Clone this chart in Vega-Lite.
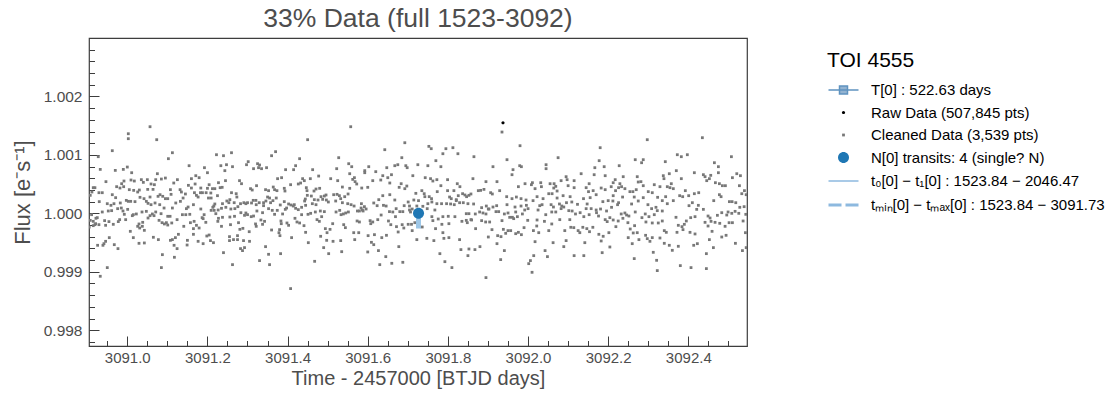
{
"$schema":"https://vega.github.io/schema/vega-lite/v6.json",
"width":658,"height":308,
"autosize":{"type":"none"},
"padding":{"left":89,"top":38,"right":370,"bottom":55},
"background":"white",
"title":{"text":"33% Data (full 1523-3092)","fontSize":26.5,"fontWeight":"normal","color":"#4d4d4d","offset":6,"anchor":"middle","frame":"group","font":"Liberation Sans"},
"config":{
"font":"Liberation Sans",
"view":{"stroke":"#3d3d3d","strokeWidth":1.2},
"axis":{"domain":false,"grid":false,"tickColor":"#3d3d3d","tickWidth":1,"labelColor":"#4d4d4d","labelFontSize":15,"titleColor":"#4d4d4d","titleFontWeight":"normal","titleFontSize":20,"labelOverlap":false,"labelFlush":false},
"legend":{"orient":"right","offset":68,"padding":12,"titleFontSize":21,"titleFontWeight":"normal","titleColor":"#000000","labelFontSize":15,"labelColor":"#000000","symbolSize":400,"rowPadding":4.5,"labelOffset":16,"titlePadding":8,"symbolOffset":5,"labelLimit":400}
},
"resolve":{"axis":{"x":"independent","y":"independent"}},
"layer":[
{
"data":{"values":[
{"t":3091.0026,"f":1.001362,"s":"c"},{"t":3091.0026,"f":1.001277,"s":"c"},{"t":3091.0568,"f":1.001482,"s":"c"},{"t":3091.0735,"f":1.00126,"s":"c"},{"t":3090.9626,"f":1.001072,"s":"c"},{"t":3090.9276,"f":1.000969,"s":"c"},{"t":3091.1126,"f":1.001037,"s":"c"},{"t":3091.1026,"f":1.000935,"s":"c"},{"t":3091.1543,"f":1.000815,"s":"c"},{"t":3090.9326,"f":1.000752,"s":"c"},{"t":3090.9701,"f":1.000735,"s":"c"},{"t":3090.9901,"f":1.000752,"s":"c"},{"t":3091.0001,"f":1.000792,"s":"c"},{"t":3091.011,"f":1.000695,"s":"c"},{"t":3091.0751,"f":1.000678,"s":"c"},{"t":3091.171,"f":1.000644,"s":"c"},{"t":3091.1601,"f":1.000593,"s":"c"},{"t":3091.1793,"f":1.00061,"s":"c"},{"t":3090.9468,"f":1.000542,"s":"c"},{"t":3090.9918,"f":1.000553,"s":"c"},{"t":3091.0093,"f":1.00057,"s":"c"},{"t":3091.0176,"f":1.000553,"s":"c"},{"t":3091.0351,"f":1.000576,"s":"c"},{"t":3091.0501,"f":1.000576,"s":"c"},{"t":3091.0401,"f":1.00053,"s":"c"},{"t":3091.071,"f":1.000576,"s":"c"},{"t":3091.0851,"f":1.000587,"s":"c"},{"t":3091.0951,"f":1.000604,"s":"c"},{"t":3091.1251,"f":1.000576,"s":"c"},{"t":3091.116,"f":1.000519,"s":"c"},{"t":3091.0593,"f":1.000502,"s":"c"},{"t":3091.0676,"f":1.00049,"s":"c"},{"t":3090.986,"f":1.000507,"s":"c"},{"t":3090.9735,"f":1.000456,"s":"c"},{"t":3090.9818,"f":1.000433,"s":"c"},{"t":3090.991,"f":1.000456,"s":"c"},{"t":3090.9151,"f":1.000439,"s":"c"},{"t":3090.9193,"f":1.000439,"s":"c"},{"t":3090.9118,"f":1.000365,"s":"c"},{"t":3090.9293,"f":1.000353,"s":"c"},{"t":3090.9376,"f":1.000353,"s":"c"},{"t":3090.9076,"f":1.000308,"s":"c"},{"t":3090.9626,"f":1.000319,"s":"c"},{"t":3090.971,"f":1.000268,"s":"c"},{"t":3091.0051,"f":1.000405,"s":"c"},{"t":3091.016,"f":1.000393,"s":"c"},{"t":3091.026,"f":1.000365,"s":"c"},{"t":3091.0301,"f":1.000399,"s":"c"},{"t":3091.051,"f":1.00041,"s":"c"},{"t":3091.0643,"f":1.00041,"s":"c"},{"t":3091.1076,"f":1.000405,"s":"c"},{"t":3091.1318,"f":1.000405,"s":"c"},{"t":3091.1351,"f":1.000365,"s":"c"},{"t":3091.1451,"f":1.000331,"s":"c"},{"t":3091.1676,"f":1.000353,"s":"c"},{"t":3091.1726,"f":1.000308,"s":"c"},{"t":3091.1768,"f":1.000279,"s":"c"},{"t":3091.1601,"f":1.000433,"s":"c"},{"t":3091.1693,"f":1.000502,"s":"c"},{"t":3091.1526,"f":1.000479,"s":"c"},{"t":3091.0818,"f":1.000319,"s":"c"},{"t":3091.0768,"f":1.000291,"s":"c"},{"t":3091.0885,"f":1.000291,"s":"c"},{"t":3091.0951,"f":1.000251,"s":"c"},{"t":3091.101,"f":1.000251,"s":"c"},{"t":3091.1093,"f":1.000325,"s":"c"},{"t":3091.1393,"f":1.000262,"s":"c"},{"t":3091.1326,"f":1.000205,"s":"c"},{"t":3091.121,"f":1.000177,"s":"c"},{"t":3091.1651,"f":1.000148,"s":"c"},{"t":3090.9301,"f":1.0002,"s":"c"},{"t":3090.9501,"f":1.000165,"s":"c"},{"t":3090.9593,"f":1.000137,"s":"c"},{"t":3090.9668,"f":1.000165,"s":"c"},{"t":3090.9826,"f":1.000177,"s":"c"},{"t":3090.9976,"f":1.000222,"s":"c"},{"t":3091.0026,"f":1.000205,"s":"c"},{"t":3091.0085,"f":1.000205,"s":"c"},{"t":3091.0193,"f":1.0002,"s":"c"},{"t":3091.0318,"f":1.000274,"s":"c"},{"t":3091.0418,"f":1.000251,"s":"c"},{"t":3091.0476,"f":1.000205,"s":"c"},{"t":3091.0518,"f":1.000171,"s":"c"},{"t":3091.0568,"f":1.000279,"s":"c"},{"t":3091.0593,"f":1.000148,"s":"c"},{"t":3091.0693,"f":1.000177,"s":"c"},{"t":3091.081,"f":1.000148,"s":"c"},{"t":3091.0918,"f":1.000091,"s":"c"},{"t":3091.1126,"f":1.000091,"s":"c"},{"t":3091.1476,"f":1.00008,"s":"c"},{"t":3091.1518,"f":1.000108,"s":"c"},{"t":3091.156,"f":0.999983,"s":"c"},{"t":3091.146,"f":0.999977,"s":"c"},{"t":3091.1376,"f":0.999977,"s":"c"},{"t":3090.9376,"f":1.000023,"s":"c"},{"t":3090.9526,"f":1.00004,"s":"c"},{"t":3090.961,"f":1.000046,"s":"c"},{"t":3090.976,"f":1.00008,"s":"c"},{"t":3090.9851,"f":1.000091,"s":"c"},{"t":3090.9893,"f":1.00004,"s":"c"},{"t":3090.9926,"f":0.999983,"s":"c"},{"t":3091.001,"f":1.000068,"s":"c"},{"t":3091.0151,"f":0.999977,"s":"c"},{"t":3091.0226,"f":0.999989,"s":"c"},{"t":3091.0368,"f":1.000023,"s":"c"},{"t":3091.0476,"f":1.000034,"s":"c"},{"t":3091.0568,"f":0.99996,"s":"c"},{"t":3091.0626,"f":0.999989,"s":"c"},{"t":3091.071,"f":1.000023,"s":"c"},{"t":3091.0843,"f":0.999994,"s":"c"},{"t":3091.101,"f":0.999949,"s":"c"},{"t":3091.1068,"f":0.999949,"s":"c"},{"t":3091.1243,"f":0.999892,"s":"c"},{"t":3091.111,"f":0.999835,"s":"c"},{"t":3091.0976,"f":0.99984,"s":"c"},{"t":3091.0926,"f":0.999818,"s":"c"},{"t":3091.101,"f":0.9998,"s":"c"},{"t":3091.0868,"f":0.99984,"s":"c"},{"t":3091.0793,"f":0.99988,"s":"c"},{"t":3091.0668,"f":0.99996,"s":"c"},{"t":3091.0518,"f":0.99992,"s":"c"},{"t":3091.0385,"f":0.999846,"s":"c"},{"t":3091.0293,"f":0.999818,"s":"c"},{"t":3091.031,"f":0.999749,"s":"c"},{"t":3091.0426,"f":0.999709,"s":"c"},{"t":3091.026,"f":0.999778,"s":"c"},{"t":3091.0376,"f":0.999778,"s":"c"},{"t":3091.0126,"f":0.99996,"s":"c"},{"t":3090.996,"f":0.999892,"s":"c"},{"t":3090.9776,"f":0.999858,"s":"c"},{"t":3090.981,"f":0.999892,"s":"c"},{"t":3090.9651,"f":0.999812,"s":"c"},{"t":3090.9543,"f":0.999858,"s":"c"},{"t":3090.9435,"f":0.999875,"s":"c"},{"t":3090.946,"f":0.999795,"s":"c"},{"t":3090.9293,"f":0.999806,"s":"c"},{"t":3090.9193,"f":0.999806,"s":"c"},{"t":3090.9151,"f":0.999863,"s":"c"},{"t":3090.9076,"f":0.99988,"s":"c"},{"t":3090.9218,"f":0.999915,"s":"c"},{"t":3090.9251,"f":0.999926,"s":"c"},{"t":3090.911,"f":0.999977,"s":"c"},{"t":3090.9151,"f":0.999789,"s":"c"},{"t":3090.921,"f":0.999823,"s":"c"},{"t":3090.905,"f":0.999766,"s":"c"},{"t":3091.141,"f":0.999778,"s":"c"},{"t":3091.1576,"f":0.99984,"s":"c"},{"t":3091.1668,"f":0.999863,"s":"c"},{"t":3091.1726,"f":0.999795,"s":"c"},{"t":3091.1651,"f":0.999738,"s":"c"},{"t":3091.1651,"f":0.999641,"s":"c"},{"t":3091.1501,"f":0.999538,"s":"c"},{"t":3091.1493,"f":0.999458,"s":"c"},{"t":3091.1276,"f":0.999641,"s":"c"},{"t":3091.1201,"f":0.999584,"s":"c"},{"t":3091.1168,"f":0.999453,"s":"c"},{"t":3091.1126,"f":0.99955,"s":"c"},{"t":3091.1243,"f":0.999396,"s":"c"},{"t":3091.1176,"f":0.999248,"s":"c"},{"t":3091.0776,"f":0.99955,"s":"c"},{"t":3091.0651,"f":0.99959,"s":"c"},{"t":3091.0426,"f":0.999493,"s":"c"},{"t":3091.0293,"f":0.999487,"s":"c"},{"t":3091.0151,"f":0.999584,"s":"c"},{"t":3091.0076,"f":0.999692,"s":"c"},{"t":3091.0876,"f":0.999293,"s":"c"},{"t":3091.0851,"f":0.999071,"s":"c"},{"t":3090.9768,"f":0.999396,"s":"c"},{"t":3090.9676,"f":0.999464,"s":"c"},{"t":3090.9551,"f":0.999584,"s":"c"},{"t":3090.946,"f":0.999521,"s":"c"},{"t":3090.9393,"f":0.999453,"s":"c"},{"t":3090.926,"f":0.999453,"s":"c"},{"t":3090.9418,"f":0.999481,"s":"c"},{"t":3090.9501,"f":0.999071,"s":"c"},{"t":3090.9326,"f":0.998923,"s":"c"},{"t":3091.1768,"f":0.999521,"s":"c"},{"t":3091.1076,"f":0.999538,"s":"c"},
{"t":3091.4501,"f":1.00126,"s":"c"},{"t":3091.2601,"f":1.001037,"s":"c"},{"t":3091.2226,"f":1.001003,"s":"c"},{"t":3091.2401,"f":1.000986,"s":"c"},{"t":3091.3701,"f":1.001055,"s":"c"},{"t":3091.3601,"f":1.000986,"s":"c"},{"t":3091.3018,"f":1.000884,"s":"c"},{"t":3091.2976,"f":1.000832,"s":"c"},{"t":3091.3251,"f":1.000849,"s":"c"},{"t":3091.3301,"f":1.000827,"s":"c"},{"t":3091.2335,"f":1.000815,"s":"c"},{"t":3091.2476,"f":1.000832,"s":"c"},{"t":3091.2626,"f":1.000798,"s":"c"},{"t":3091.1926,"f":1.000781,"s":"c"},{"t":3091.3276,"f":1.000781,"s":"c"},{"t":3091.3351,"f":1.000764,"s":"c"},{"t":3091.3151,"f":1.000764,"s":"c"},{"t":3091.3476,"f":1.000781,"s":"c"},{"t":3091.4301,"f":1.000935,"s":"c"},{"t":3091.4201,"f":1.000815,"s":"c"},{"t":3091.3951,"f":1.000747,"s":"c"},{"t":3091.4151,"f":1.000747,"s":"c"},{"t":3091.2435,"f":1.00073,"s":"c"},{"t":3091.2001,"f":1.000695,"s":"c"},{"t":3091.2451,"f":1.000559,"s":"c"},{"t":3091.2276,"f":1.000524,"s":"c"},{"t":3091.2801,"f":1.000559,"s":"c"},{"t":3091.2851,"f":1.000507,"s":"c"},{"t":3091.3751,"f":1.000593,"s":"c"},{"t":3091.3851,"f":1.00061,"s":"c"},{"t":3091.4376,"f":1.000593,"s":"c"},{"t":3091.4418,"f":1.000559,"s":"c"},{"t":3091.4326,"f":1.000519,"s":"c"},{"t":3091.4268,"f":1.000502,"s":"c"},{"t":3091.4076,"f":1.00049,"s":"c"},{"t":3091.3226,"f":1.000473,"s":"c"},{"t":3091.3076,"f":1.000422,"s":"c"},{"t":3091.3118,"f":1.000399,"s":"c"},{"t":3091.3451,"f":1.000405,"s":"c"},{"t":3091.3526,"f":1.000388,"s":"c"},{"t":3091.3643,"f":1.00045,"s":"c"},{"t":3091.3676,"f":1.000405,"s":"c"},{"t":3091.3735,"f":1.000388,"s":"c"},{"t":3091.3918,"f":1.000428,"s":"c"},{"t":3091.3935,"f":1.000382,"s":"c"},{"t":3091.4468,"f":1.000439,"s":"c"},{"t":3091.1835,"f":1.000433,"s":"c"},{"t":3091.2043,"f":1.00049,"s":"c"},{"t":3091.2126,"f":1.000422,"s":"c"},{"t":3091.2185,"f":1.000422,"s":"c"},{"t":3091.2318,"f":1.000439,"s":"c"},{"t":3091.2368,"f":1.000445,"s":"c"},{"t":3091.2001,"f":1.000428,"s":"c"},{"t":3091.1826,"f":1.000353,"s":"c"},{"t":3091.1876,"f":1.000353,"s":"c"},{"t":3091.1968,"f":1.000353,"s":"c"},{"t":3091.2085,"f":1.000348,"s":"c"},{"t":3091.2251,"f":1.000302,"s":"c"},{"t":3091.2026,"f":1.000262,"s":"c"},{"t":3091.2093,"f":1.000262,"s":"c"},{"t":3091.2601,"f":1.000353,"s":"c"},{"t":3091.2718,"f":1.000336,"s":"c"},{"t":3091.2735,"f":1.000279,"s":"c"},{"t":3091.256,"f":1.000234,"s":"c"},{"t":3091.2485,"f":1.000211,"s":"c"},{"t":3091.2376,"f":1.000165,"s":"c"},{"t":3091.2185,"f":1.00016,"s":"c"},{"t":3091.216,"f":1.000125,"s":"c"},{"t":3091.2135,"f":1.000103,"s":"c"},{"t":3091.2093,"f":1.000051,"s":"c"},{"t":3091.2168,"f":1.000051,"s":"c"},{"t":3091.221,"f":0.999994,"s":"c"},{"t":3091.2268,"f":1.000057,"s":"c"},{"t":3091.2351,"f":1.000086,"s":"c"},{"t":3091.246,"f":1.000103,"s":"c"},{"t":3091.2535,"f":1.000182,"s":"c"},{"t":3091.2668,"f":1.000182,"s":"c"},{"t":3091.2826,"f":1.000165,"s":"c"},{"t":3091.291,"f":1.000182,"s":"c"},{"t":3091.296,"f":1.000165,"s":"c"},{"t":3091.3001,"f":1.000182,"s":"c"},{"t":3091.3101,"f":1.000177,"s":"c"},{"t":3091.3143,"f":1.000222,"s":"c"},{"t":3091.321,"f":1.000222,"s":"c"},{"t":3091.3218,"f":1.000148,"s":"c"},{"t":3091.3293,"f":1.000182,"s":"c"},{"t":3091.3401,"f":1.000182,"s":"c"},{"t":3091.346,"f":1.000211,"s":"c"},{"t":3091.3501,"f":1.000279,"s":"c"},{"t":3091.3551,"f":1.000262,"s":"c"},{"t":3091.3576,"f":1.000182,"s":"c"},{"t":3091.3635,"f":1.000217,"s":"c"},{"t":3091.3718,"f":1.000262,"s":"c"},{"t":3091.3818,"f":1.000143,"s":"c"},{"t":3091.3918,"f":1.0002,"s":"c"},{"t":3091.3976,"f":1.000091,"s":"c"},{"t":3091.4026,"f":1.00016,"s":"c"},{"t":3091.4085,"f":1.000143,"s":"c"},{"t":3091.4143,"f":1.000125,"s":"c"},{"t":3091.4168,"f":1.000148,"s":"c"},{"t":3091.4201,"f":1.000086,"s":"c"},{"t":3091.4268,"f":1.000063,"s":"c"},{"t":3091.4351,"f":1.000103,"s":"c"},{"t":3091.4426,"f":1.000211,"s":"c"},{"t":3091.4443,"f":1.000245,"s":"c"},{"t":3091.4493,"f":1.000308,"s":"c"},{"t":3091.4485,"f":1.000388,"s":"c"},{"t":3091.4451,"f":1.000137,"s":"c"},{"t":3091.3943,"f":1.000068,"s":"c"},{"t":3091.3876,"f":0.999989,"s":"c"},{"t":3091.3743,"f":1.000051,"s":"c"},{"t":3091.3676,"f":0.999983,"s":"c"},{"t":3091.3618,"f":1.000051,"s":"c"},{"t":3091.3526,"f":1.00008,"s":"c"},{"t":3091.3401,"f":1.000131,"s":"c"},{"t":3091.3376,"f":1.000011,"s":"c"},{"t":3091.3235,"f":1.00004,"s":"c"},{"t":3091.3151,"f":0.999954,"s":"c"},{"t":3091.3093,"f":0.999943,"s":"c"},{"t":3091.3001,"f":0.999977,"s":"c"},{"t":3091.296,"f":1.000006,"s":"c"},{"t":3091.2926,"f":0.999966,"s":"c"},{"t":3091.2835,"f":1.000011,"s":"c"},{"t":3091.276,"f":1.000114,"s":"c"},{"t":3091.2685,"f":1.00008,"s":"c"},{"t":3091.2676,"f":0.999949,"s":"c"},{"t":3091.2585,"f":1.000074,"s":"c"},{"t":3091.256,"f":0.999937,"s":"c"},{"t":3091.2376,"f":0.999932,"s":"c"},{"t":3091.226,"f":0.999863,"s":"c"},{"t":3091.2276,"f":0.999915,"s":"c"},{"t":3091.196,"f":0.999846,"s":"c"},{"t":3091.1893,"f":0.999909,"s":"c"},{"t":3091.1868,"f":0.999926,"s":"c"},{"t":3091.1918,"f":0.999977,"s":"c"},{"t":3091.1835,"f":1.000074,"s":"c"},{"t":3091.1793,"f":0.999749,"s":"c"},{"t":3091.2043,"f":0.999629,"s":"c"},{"t":3091.1985,"f":0.999612,"s":"c"},{"t":3091.2076,"f":0.999533,"s":"c"},{"t":3091.2151,"f":0.999498,"s":"c"},{"t":3091.1893,"f":0.999481,"s":"c"},{"t":3091.2351,"f":0.999778,"s":"c"},{"t":3091.2576,"f":0.999806,"s":"c"},{"t":3091.2776,"f":0.99984,"s":"c"},{"t":3091.281,"f":0.999726,"s":"c"},{"t":3091.3043,"f":0.999686,"s":"c"},{"t":3091.2885,"f":0.999743,"s":"c"},{"t":3091.3218,"f":0.999778,"s":"c"},{"t":3091.3201,"f":0.999818,"s":"c"},{"t":3091.3335,"f":0.999886,"s":"c"},{"t":3091.3376,"f":0.999812,"s":"c"},{"t":3091.3426,"f":0.999863,"s":"c"},{"t":3091.3601,"f":0.999715,"s":"c"},{"t":3091.3801,"f":0.999721,"s":"c"},{"t":3091.3785,"f":0.999669,"s":"c"},{"t":3091.381,"f":0.999618,"s":"c"},{"t":3091.3835,"f":0.999869,"s":"c"},{"t":3091.3843,"f":0.999823,"s":"c"},{"t":3091.3985,"f":0.999835,"s":"c"},{"t":3091.4026,"f":0.999795,"s":"c"},{"t":3091.4185,"f":0.999915,"s":"c"},{"t":3091.4235,"f":0.999852,"s":"c"},{"t":3091.4301,"f":0.999835,"s":"c"},{"t":3091.441,"f":0.999789,"s":"c"},{"t":3091.4351,"f":0.999977,"s":"c"},{"t":3091.451,"f":0.999983,"s":"c"},{"t":3091.4451,"f":0.999675,"s":"c"},{"t":3091.4101,"f":0.999584,"s":"c"},{"t":3091.4518,"f":0.999498,"s":"c"},{"t":3091.2551,"f":0.999601,"s":"c"},{"t":3091.2551,"f":0.999533,"s":"c"},{"t":3091.2651,"f":0.99955,"s":"c"},{"t":3091.2751,"f":0.99955,"s":"c"},{"t":3091.2751,"f":0.999618,"s":"c"},{"t":3091.2901,"f":0.999533,"s":"c"},{"t":3091.3051,"f":0.999521,"s":"c"},{"t":3091.2926,"f":0.999413,"s":"c"},{"t":3091.2826,"f":0.999396,"s":"c"},{"t":3091.2876,"f":0.999362,"s":"c"},{"t":3091.2401,"f":0.999327,"s":"c"},{"t":3091.2626,"f":0.999122,"s":"c"},{"t":3091.3301,"f":0.999191,"s":"c"},{"t":3091.3451,"f":0.99943,"s":"c"},{"t":3091.3526,"f":0.999299,"s":"c"},{"t":3091.3551,"f":0.999122,"s":"c"},{"t":3091.3826,"f":0.99931,"s":"c"},{"t":3091.4076,"f":0.998712,"s":"c"},
{"t":3091.5576,"f":1.001482,"s":"c"},{"t":3091.6926,"f":1.001208,"s":"c"},{"t":3091.6426,"f":1.001089,"s":"c"},{"t":3091.5276,"f":1.000952,"s":"c"},{"t":3091.6851,"f":1.000952,"s":"c"},{"t":3091.5526,"f":1.000849,"s":"c"},{"t":3091.5601,"f":1.000798,"s":"c"},{"t":3091.5226,"f":1.000764,"s":"c"},{"t":3091.4626,"f":1.000747,"s":"c"},{"t":3091.6026,"f":1.000798,"s":"c"},{"t":3091.5926,"f":1.00073,"s":"c"},{"t":3091.5926,"f":1.000695,"s":"c"},{"t":3091.6201,"f":1.000713,"s":"c"},{"t":3091.6476,"f":1.000781,"s":"c"},{"t":3091.6676,"f":1.000815,"s":"c"},{"t":3091.6751,"f":1.000832,"s":"c"},{"t":3091.6951,"f":1.000815,"s":"c"},{"t":3091.6985,"f":1.000781,"s":"c"},{"t":3091.7251,"f":1.000832,"s":"c"},{"t":3091.5551,"f":1.000678,"s":"c"},{"t":3091.5668,"f":1.00061,"s":"c"},{"t":3091.5626,"f":1.000581,"s":"c"},{"t":3091.5685,"f":1.000542,"s":"c"},{"t":3091.5726,"f":1.000502,"s":"c"},{"t":3091.5076,"f":1.000593,"s":"c"},{"t":3091.5251,"f":1.000559,"s":"c"},{"t":3091.4776,"f":1.000638,"s":"c"},{"t":3091.4568,"f":1.000593,"s":"c"},{"t":3091.6376,"f":1.000644,"s":"c"},{"t":3091.6501,"f":1.00061,"s":"c"},{"t":3091.6593,"f":1.000661,"s":"c"},{"t":3091.6326,"f":1.00057,"s":"c"},{"t":3091.6551,"f":1.000519,"s":"c"},{"t":3091.6126,"f":1.000559,"s":"c"},{"t":3091.6835,"f":1.000507,"s":"c"},{"t":3091.6785,"f":1.000445,"s":"c"},{"t":3091.6926,"f":1.000422,"s":"c"},{"t":3091.6976,"f":1.000467,"s":"c"},{"t":3091.7126,"f":1.000644,"s":"c"},{"t":3091.6001,"f":1.000445,"s":"c"},{"t":3091.5851,"f":1.000433,"s":"c"},{"t":3091.5551,"f":1.000428,"s":"c"},{"t":3091.5368,"f":1.00045,"s":"c"},{"t":3091.5293,"f":1.000302,"s":"c"},{"t":3091.5235,"f":1.000325,"s":"c"},{"t":3091.5426,"f":1.000285,"s":"c"},{"t":3091.551,"f":1.000331,"s":"c"},{"t":3091.5151,"f":1.000319,"s":"c"},{"t":3091.496,"f":1.000314,"s":"c"},{"t":3091.4918,"f":1.000296,"s":"c"},{"t":3091.4835,"f":1.000285,"s":"c"},{"t":3091.471,"f":1.000416,"s":"c"},{"t":3091.4801,"f":1.000428,"s":"c"},{"t":3091.466,"f":1.000382,"s":"c"},{"t":3091.4593,"f":1.000296,"s":"c"},{"t":3091.4668,"f":1.000234,"s":"c"},{"t":3091.4618,"f":1.000165,"s":"c"},{"t":3091.471,"f":1.000148,"s":"c"},{"t":3091.476,"f":1.000228,"s":"c"},{"t":3091.4876,"f":1.000239,"s":"c"},{"t":3091.4968,"f":1.000228,"s":"c"},{"t":3091.5018,"f":1.000194,"s":"c"},{"t":3091.5201,"f":1.000211,"s":"c"},{"t":3091.5326,"f":1.000251,"s":"c"},{"t":3091.5368,"f":1.000182,"s":"c"},{"t":3091.5501,"f":1.000165,"s":"c"},{"t":3091.5585,"f":1.000148,"s":"c"},{"t":3091.566,"f":1.000125,"s":"c"},{"t":3091.5843,"f":1.000165,"s":"c"},{"t":3091.5835,"f":1.000091,"s":"c"},{"t":3091.5918,"f":1.000114,"s":"c"},{"t":3091.5868,"f":1.000057,"s":"c"},{"t":3091.5793,"f":1.00004,"s":"c"},{"t":3091.5885,"f":1.00004,"s":"c"},{"t":3091.596,"f":1.000074,"s":"c"},{"t":3091.5743,"f":1.00004,"s":"c"},{"t":3091.6151,"f":1.000177,"s":"c"},{"t":3091.6235,"f":1.000131,"s":"c"},{"t":3091.6276,"f":1.000234,"s":"c"},{"t":3091.6376,"f":1.000302,"s":"c"},{"t":3091.6551,"f":1.000319,"s":"c"},{"t":3091.6393,"f":1.000137,"s":"c"},{"t":3091.646,"f":1.000125,"s":"c"},{"t":3091.6543,"f":1.000029,"s":"c"},{"t":3091.6626,"f":1.000023,"s":"c"},{"t":3091.671,"f":1.00008,"s":"c"},{"t":3091.6676,"f":1.000228,"s":"c"},{"t":3091.6801,"f":1.000029,"s":"c"},{"t":3091.6876,"f":1.000029,"s":"c"},{"t":3091.691,"f":1.000131,"s":"c"},{"t":3091.701,"f":1.000194,"s":"c"},{"t":3091.7043,"f":1.000125,"s":"c"},{"t":3091.711,"f":1.000074,"s":"c"},{"t":3091.7201,"f":1.000342,"s":"c"},{"t":3091.7151,"f":1.000228,"s":"c"},{"t":3091.7268,"f":1.000217,"s":"c"},{"t":3091.7226,"f":1.000125,"s":"c"},{"t":3091.7043,"f":1.000057,"s":"c"},{"t":3091.7068,"f":1.000023,"s":"c"},{"t":3091.5301,"f":1.000051,"s":"c"},{"t":3091.521,"f":1.000023,"s":"c"},{"t":3091.5393,"f":0.999989,"s":"c"},{"t":3091.5451,"f":1.000006,"s":"c"},{"t":3091.5518,"f":1.000023,"s":"c"},{"t":3091.5335,"f":0.999977,"s":"c"},{"t":3091.4576,"f":1.0,"s":"c"},{"t":3091.4693,"f":1.000023,"s":"c"},{"t":3091.4818,"f":1.00004,"s":"c"},{"t":3091.4918,"f":1.000029,"s":"c"},{"t":3091.4851,"f":0.999943,"s":"c"},{"t":3091.4735,"f":0.999892,"s":"c"},{"t":3091.4793,"f":0.999863,"s":"c"},{"t":3091.5126,"f":0.999823,"s":"c"},{"t":3091.5401,"f":0.999806,"s":"c"},{"t":3091.5443,"f":0.999755,"s":"c"},{"t":3091.4943,"f":0.999738,"s":"c"},{"t":3091.4985,"f":0.999669,"s":"c"},{"t":3091.506,"f":0.999726,"s":"c"},{"t":3091.4826,"f":0.999607,"s":"c"},{"t":3091.4976,"f":0.999538,"s":"c"},{"t":3091.5135,"f":0.999521,"s":"c"},{"t":3091.5326,"f":0.999533,"s":"c"},{"t":3091.5676,"f":0.99955,"s":"c"},{"t":3091.5651,"f":0.999669,"s":"c"},{"t":3091.5776,"f":0.999669,"s":"c"},{"t":3091.5735,"f":0.999869,"s":"c"},{"t":3091.5793,"f":0.999852,"s":"c"},{"t":3091.606,"f":0.999875,"s":"c"},{"t":3091.6126,"f":0.999852,"s":"c"},{"t":3091.6076,"f":0.999823,"s":"c"},{"t":3091.6251,"f":0.999892,"s":"c"},{"t":3091.6335,"f":0.999971,"s":"c"},{"t":3091.6518,"f":0.999869,"s":"c"},{"t":3091.6576,"f":0.999806,"s":"c"},{"t":3091.6693,"f":0.999943,"s":"c"},{"t":3091.6718,"f":0.999772,"s":"c"},{"t":3091.676,"f":0.999681,"s":"c"},{"t":3091.686,"f":0.999806,"s":"c"},{"t":3091.6901,"f":0.999749,"s":"c"},{"t":3091.701,"f":0.999812,"s":"c"},{"t":3091.7093,"f":0.999812,"s":"c"},{"t":3091.711,"f":0.999704,"s":"c"},{"t":3091.7176,"f":0.99984,"s":"c"},{"t":3091.6351,"f":0.999584,"s":"c"},{"t":3091.6468,"f":0.999624,"s":"c"},{"t":3091.6168,"f":0.999635,"s":"c"},{"t":3091.601,"f":0.999618,"s":"c"},{"t":3091.6093,"f":0.999504,"s":"c"},{"t":3091.6151,"f":0.999464,"s":"c"},{"t":3091.6001,"f":0.999339,"s":"c"},{"t":3091.6268,"f":0.999362,"s":"c"},{"t":3091.6451,"f":0.999259,"s":"c"},{"t":3091.6601,"f":0.999145,"s":"c"},{"t":3091.6301,"f":0.999122,"s":"c"},{"t":3091.6876,"f":0.999162,"s":"c"},{"t":3091.6776,"f":0.99943,"s":"c"},{"t":3091.7226,"f":0.99955,"s":"c"},{"t":3091.5351,"f":0.999344,"s":"c"},{"t":3091.5026,"f":0.99931,"s":"c"},{"t":3091.4901,"f":0.999413,"s":"c"},{"t":3091.4676,"f":0.999179,"s":"c"},
{"t":3091.9351,"f":1.001391,"s":"c"},{"t":3091.9801,"f":1.001157,"s":"c"},{"t":3091.7526,"f":1.001146,"s":"c"},{"t":3091.7585,"f":1.001106,"s":"c"},{"t":3091.7951,"f":1.001106,"s":"c"},{"t":3091.8126,"f":1.001123,"s":"c"},{"t":3091.7876,"f":1.00102,"s":"c"},{"t":3091.8251,"f":1.00102,"s":"c"},{"t":3091.8651,"f":1.000969,"s":"c"},{"t":3091.9476,"f":1.000918,"s":"c"},{"t":3091.7701,"f":1.000901,"s":"c"},{"t":3091.7501,"f":1.000815,"s":"c"},{"t":3091.7826,"f":1.000798,"s":"c"},{"t":3091.9126,"f":1.000798,"s":"c"},{"t":3091.9793,"f":1.000815,"s":"c"},{"t":3091.9835,"f":1.000798,"s":"c"},{"t":3091.9626,"f":1.000747,"s":"c"},{"t":3091.9601,"f":1.000661,"s":"c"},{"t":3091.7435,"f":1.00061,"s":"c"},{"t":3091.7568,"f":1.000593,"s":"c"},{"t":3091.7626,"f":1.000553,"s":"c"},{"t":3091.7726,"f":1.000576,"s":"c"},{"t":3091.7993,"f":1.000576,"s":"c"},{"t":3091.8626,"f":1.000593,"s":"c"},{"t":3091.8951,"f":1.000542,"s":"c"},{"t":3091.9226,"f":1.000542,"s":"c"},{"t":3091.976,"f":1.000456,"s":"c"},{"t":3091.9926,"f":1.000507,"s":"c"},{"t":3091.7826,"f":1.000473,"s":"c"},{"t":3091.8235,"f":1.000507,"s":"c"},{"t":3091.8301,"f":1.000456,"s":"c"},{"t":3091.8151,"f":1.000388,"s":"c"},{"t":3091.7993,"f":1.000388,"s":"c"},{"t":3091.7735,"f":1.000371,"s":"c"},{"t":3091.7351,"f":1.000388,"s":"c"},{"t":3091.741,"f":1.000336,"s":"c"},{"t":3091.7426,"f":1.000285,"s":"c"},{"t":3091.7535,"f":1.000285,"s":"c"},{"t":3091.7593,"f":1.000251,"s":"c"},{"t":3091.8043,"f":1.000279,"s":"c"},{"t":3091.8085,"f":1.000251,"s":"c"},{"t":3091.821,"f":1.000234,"s":"c"},{"t":3091.826,"f":1.000302,"s":"c"},{"t":3091.8368,"f":1.000336,"s":"c"},{"t":3091.8426,"f":1.000314,"s":"c"},{"t":3091.8468,"f":1.000285,"s":"c"},{"t":3091.8526,"f":1.000308,"s":"c"},{"t":3091.8576,"f":1.000331,"s":"c"},{"t":3091.876,"f":1.000388,"s":"c"},{"t":3091.8818,"f":1.000393,"s":"c"},{"t":3091.8901,"f":1.00041,"s":"c"},{"t":3091.9068,"f":1.000353,"s":"c"},{"t":3091.911,"f":1.000331,"s":"c"},{"t":3091.9293,"f":1.000388,"s":"c"},{"t":3091.9468,"f":1.000285,"s":"c"},{"t":3091.9601,"f":1.000251,"s":"c"},{"t":3091.971,"f":1.000279,"s":"c"},{"t":3091.9826,"f":1.000251,"s":"c"},{"t":3091.9951,"f":1.000228,"s":"c"},{"t":3091.996,"f":1.000137,"s":"c"},{"t":3091.9826,"f":1.000125,"s":"c"},{"t":3091.9676,"f":1.000108,"s":"c"},{"t":3091.9476,"f":1.000148,"s":"c"},{"t":3091.9218,"f":1.000131,"s":"c"},{"t":3091.9126,"f":1.000108,"s":"c"},{"t":3091.9026,"f":1.000074,"s":"c"},{"t":3091.896,"f":1.000125,"s":"c"},{"t":3091.8843,"f":1.000097,"s":"c"},{"t":3091.8643,"f":1.00016,"s":"c"},{"t":3091.8501,"f":1.000165,"s":"c"},{"t":3091.8385,"f":1.000182,"s":"c"},{"t":3091.8293,"f":1.000182,"s":"c"},{"t":3091.821,"f":1.000217,"s":"c"},{"t":3091.816,"f":1.000148,"s":"c"},{"t":3091.8068,"f":1.00016,"s":"c"},{"t":3091.7968,"f":1.000165,"s":"c"},{"t":3091.7843,"f":1.000165,"s":"c"},{"t":3091.7726,"f":1.000165,"s":"c"},{"t":3091.7601,"f":1.000194,"s":"c"},{"t":3091.7501,"f":1.000165,"s":"c"},{"t":3091.7376,"f":1.00012,"s":"c"},{"t":3091.7485,"f":1.00008,"s":"c"},{"t":3091.7676,"f":1.000057,"s":"c"},{"t":3091.7601,"f":0.999943,"s":"c"},{"t":3091.776,"f":0.999903,"s":"c"},{"t":3091.7876,"f":0.999943,"s":"c"},{"t":3091.801,"f":0.999949,"s":"c"},{"t":3091.8176,"f":0.999943,"s":"c"},{"t":3091.846,"f":0.999994,"s":"c"},{"t":3091.8526,"f":0.999994,"s":"c"},{"t":3091.846,"f":0.99988,"s":"c"},{"t":3091.8576,"f":0.999892,"s":"c"},{"t":3091.8685,"f":0.999989,"s":"c"},{"t":3091.8793,"f":1.000023,"s":"c"},{"t":3091.8876,"f":1.000006,"s":"c"},{"t":3091.8951,"f":0.999989,"s":"c"},{"t":3091.901,"f":1.000074,"s":"c"},{"t":3091.8843,"f":0.999875,"s":"c"},{"t":3091.8943,"f":0.999852,"s":"c"},{"t":3091.9043,"f":0.999852,"s":"c"},{"t":3091.9201,"f":1.000029,"s":"c"},{"t":3091.9268,"f":1.000029,"s":"c"},{"t":3091.9351,"f":0.999875,"s":"c"},{"t":3091.941,"f":0.999989,"s":"c"},{"t":3091.9501,"f":1.000006,"s":"c"},{"t":3091.9543,"f":0.999932,"s":"c"},{"t":3091.961,"f":0.999932,"s":"c"},{"t":3091.9693,"f":1.000023,"s":"c"},{"t":3091.9643,"f":0.999909,"s":"c"},{"t":3091.9735,"f":0.999943,"s":"c"},{"t":3091.986,"f":0.999989,"s":"c"},{"t":3091.9918,"f":1.000057,"s":"c"},{"t":3092.0001,"f":1.00008,"s":"c"},{"t":3091.9993,"f":0.99988,"s":"c"},{"t":3091.736,"f":0.999766,"s":"c"},{"t":3091.7626,"f":0.999875,"s":"c"},{"t":3091.7693,"f":0.999738,"s":"c"},{"t":3091.7876,"f":0.999669,"s":"c"},{"t":3091.7851,"f":0.999812,"s":"c"},{"t":3091.8026,"f":0.999823,"s":"c"},{"t":3091.7901,"f":0.999572,"s":"c"},{"t":3091.8026,"f":0.999584,"s":"c"},{"t":3091.7476,"f":0.999572,"s":"c"},{"t":3091.7651,"f":0.999533,"s":"c"},{"t":3091.8293,"f":0.99955,"s":"c"},{"t":3091.8326,"f":0.999379,"s":"c"},{"t":3091.8526,"f":0.99939,"s":"c"},{"t":3091.8676,"f":0.999379,"s":"c"},{"t":3091.8801,"f":0.99943,"s":"c"},{"t":3091.8501,"f":0.999276,"s":"c"},{"t":3091.7801,"f":0.99931,"s":"c"},{"t":3091.7926,"f":0.999173,"s":"c"},{"t":3091.8101,"f":0.999071,"s":"c"},{"t":3091.8951,"f":0.9989,"s":"c"},{"t":3091.8693,"f":0.999738,"s":"c"},{"t":3091.9101,"f":0.999721,"s":"c"},{"t":3091.901,"f":0.999595,"s":"c"},{"t":3091.9243,"f":0.999618,"s":"c"},{"t":3091.9326,"f":0.999601,"s":"c"},{"t":3091.9385,"f":0.999726,"s":"c"},{"t":3091.9443,"f":0.999658,"s":"c"},{"t":3091.9501,"f":0.999704,"s":"c"},{"t":3091.9568,"f":0.999704,"s":"c"},{"t":3091.9693,"f":0.999652,"s":"c"},{"t":3091.976,"f":0.999675,"s":"c"},{"t":3091.9835,"f":0.999635,"s":"c"},{"t":3091.9901,"f":0.999755,"s":"c"},{"t":3091.9226,"f":0.999481,"s":"c"},{"t":3091.941,"f":0.999362,"s":"c"},{"t":3091.9318,"f":0.999208,"s":"c"},{"t":3092.0018,"f":0.999139,"s":"c"},{"t":3091.8593,"f":0.999886,"s":"c"},{"t":3091.8485,"f":0.99984,"s":"c"},{"t":3091.8351,"f":0.999863,"s":"c"},{"t":3091.7301,"f":0.999977,"s":"c"},{"t":3091.7268,"f":1.000034,"s":"c"},
{"t":3092.1801,"f":1.001123,"s":"c"},{"t":3092.1776,"f":1.000901,"s":"c"},{"t":3092.2676,"f":1.000918,"s":"c"},{"t":3092.0751,"f":1.000952,"s":"c"},{"t":3092.0451,"f":1.000832,"s":"c"},{"t":3092.0451,"f":1.000764,"s":"c"},{"t":3092.1668,"f":1.000781,"s":"c"},{"t":3092.1901,"f":1.000798,"s":"c"},{"t":3092.2276,"f":1.000815,"s":"c"},{"t":3092.1326,"f":1.000678,"s":"c"},{"t":3092.1651,"f":1.000661,"s":"c"},{"t":3092.1926,"f":1.000644,"s":"c"},{"t":3092.2376,"f":1.000627,"s":"c"},{"t":3092.2726,"f":1.000627,"s":"c"},{"t":3092.0951,"f":1.000627,"s":"c"},{"t":3092.0976,"f":1.000576,"s":"c"},{"t":3092.0826,"f":1.000559,"s":"c"},{"t":3092.1151,"f":1.000559,"s":"c"},{"t":3092.2176,"f":1.000576,"s":"c"},{"t":3092.2126,"f":1.000524,"s":"c"},{"t":3092.2076,"f":1.000456,"s":"c"},{"t":3092.2293,"f":1.000507,"s":"c"},{"t":3092.2335,"f":1.000456,"s":"c"},{"t":3092.2418,"f":1.000422,"s":"c"},{"t":3092.226,"f":1.000439,"s":"c"},{"t":3092.2543,"f":1.000371,"s":"c"},{"t":3092.2618,"f":1.000371,"s":"c"},{"t":3092.2701,"f":1.000405,"s":"c"},{"t":3092.2751,"f":1.000536,"s":"c"},{"t":3092.011,"f":1.000524,"s":"c"},{"t":3092.0318,"f":1.000524,"s":"c"},{"t":3092.0335,"f":1.000456,"s":"c"},{"t":3092.0551,"f":1.000507,"s":"c"},{"t":3092.0651,"f":1.000507,"s":"c"},{"t":3092.0693,"f":1.000462,"s":"c"},{"t":3092.0643,"f":1.000433,"s":"c"},{"t":3092.0726,"f":1.000382,"s":"c"},{"t":3092.0601,"f":1.000336,"s":"c"},{"t":3092.0176,"f":1.000422,"s":"c"},{"t":3092.0085,"f":1.00049,"s":"c"},{"t":3092.0518,"f":1.000336,"s":"c"},{"t":3092.0876,"f":1.000302,"s":"c"},{"t":3092.1001,"f":1.000473,"s":"c"},{"t":3092.1151,"f":1.000439,"s":"c"},{"t":3092.1451,"f":1.000439,"s":"c"},{"t":3092.1526,"f":1.000507,"s":"c"},{"t":3092.1626,"f":1.000388,"s":"c"},{"t":3092.151,"f":1.000371,"s":"c"},{"t":3092.1701,"f":1.000319,"s":"c"},{"t":3092.1826,"f":1.000433,"s":"c"},{"t":3092.1926,"f":1.000405,"s":"c"},{"t":3092.2126,"f":1.000302,"s":"c"},{"t":3092.2185,"f":1.000388,"s":"c"},{"t":3092.236,"f":1.000279,"s":"c"},{"t":3092.2651,"f":1.000279,"s":"c"},{"t":3092.0226,"f":1.000285,"s":"c"},{"t":3092.0376,"f":1.000251,"s":"c"},{"t":3092.0726,"f":1.000262,"s":"c"},{"t":3092.1051,"f":1.000285,"s":"c"},{"t":3092.1093,"f":1.000194,"s":"c"},{"t":3092.1385,"f":1.000251,"s":"c"},{"t":3092.1551,"f":1.000268,"s":"c"},{"t":3092.2001,"f":1.000217,"s":"c"},{"t":3092.2118,"f":1.000211,"s":"c"},{"t":3092.226,"f":1.000182,"s":"c"},{"t":3092.2235,"f":1.000148,"s":"c"},{"t":3092.2585,"f":1.00016,"s":"c"},{"t":3092.2751,"f":1.000211,"s":"c"},{"t":3092.0126,"f":1.000217,"s":"c"},{"t":3092.0293,"f":1.000131,"s":"c"},{"t":3092.0351,"f":1.000148,"s":"c"},{"t":3092.0576,"f":1.000148,"s":"c"},{"t":3092.0635,"f":1.000108,"s":"c"},{"t":3092.0785,"f":1.00016,"s":"c"},{"t":3092.0843,"f":1.000125,"s":"c"},{"t":3092.096,"f":1.000182,"s":"c"},{"t":3092.1235,"f":1.000154,"s":"c"},{"t":3092.1476,"f":1.00016,"s":"c"},{"t":3092.1451,"f":1.00008,"s":"c"},{"t":3092.1576,"f":1.00008,"s":"c"},{"t":3092.1701,"f":1.000057,"s":"c"},{"t":3092.1868,"f":1.0002,"s":"c"},{"t":3092.181,"f":1.000074,"s":"c"},{"t":3092.171,"f":1.000011,"s":"c"},{"t":3092.196,"f":1.00004,"s":"c"},{"t":3092.2085,"f":1.000103,"s":"c"},{"t":3092.2326,"f":0.999989,"s":"c"},{"t":3092.2418,"f":1.000006,"s":"c"},{"t":3092.246,"f":0.999971,"s":"c"},{"t":3092.2518,"f":0.999954,"s":"c"},{"t":3092.2676,"f":1.000023,"s":"c"},{"t":3092.0251,"f":1.000057,"s":"c"},{"t":3092.0443,"f":0.999977,"s":"c"},{"t":3092.0593,"f":1.000023,"s":"c"},{"t":3092.0693,"f":1.000023,"s":"c"},{"t":3092.0826,"f":1.00008,"s":"c"},{"t":3092.0893,"f":1.000108,"s":"c"},{"t":3092.1018,"f":1.000046,"s":"c"},{"t":3092.1101,"f":1.00004,"s":"c"},{"t":3092.1185,"f":0.999989,"s":"c"},{"t":3092.1301,"f":1.000011,"s":"c"},{"t":3092.1393,"f":0.999943,"s":"c"},{"t":3092.1526,"f":0.999977,"s":"c"},{"t":3092.176,"f":0.999954,"s":"c"},{"t":3092.1926,"f":0.999892,"s":"c"},{"t":3092.1976,"f":0.999858,"s":"c"},{"t":3092.2043,"f":0.999926,"s":"c"},{"t":3092.2126,"f":0.999886,"s":"c"},{"t":3092.2251,"f":0.999869,"s":"c"},{"t":3092.2493,"f":0.99984,"s":"c"},{"t":3092.266,"f":0.999789,"s":"c"},{"t":3092.2368,"f":0.999915,"s":"c"},{"t":3092.1043,"f":0.999892,"s":"c"},{"t":3092.0793,"f":0.999892,"s":"c"},{"t":3092.041,"f":0.999863,"s":"c"},{"t":3092.0226,"f":0.999886,"s":"c"},{"t":3092.0593,"f":0.999818,"s":"c"},{"t":3092.0218,"f":0.999783,"s":"c"},{"t":3092.0135,"f":0.999704,"s":"c"},{"t":3092.0268,"f":0.999669,"s":"c"},{"t":3092.0518,"f":0.999704,"s":"c"},{"t":3092.0918,"f":0.999704,"s":"c"},{"t":3092.1068,"f":0.999761,"s":"c"},{"t":3092.1143,"f":0.999755,"s":"c"},{"t":3092.1251,"f":0.999704,"s":"c"},{"t":3092.1293,"f":0.999669,"s":"c"},{"t":3092.1368,"f":0.999761,"s":"c"},{"t":3092.1468,"f":0.999738,"s":"c"},{"t":3092.1535,"f":0.999686,"s":"c"},{"t":3092.1618,"f":0.999761,"s":"c"},{"t":3092.1768,"f":0.999641,"s":"c"},{"t":3092.1876,"f":0.999607,"s":"c"},{"t":3092.2018,"f":0.999669,"s":"c"},{"t":3092.2193,"f":0.999772,"s":"c"},{"t":3092.2551,"f":0.999732,"s":"c"},{"t":3092.2626,"f":0.999664,"s":"c"},{"t":3092.2726,"f":0.999669,"s":"c"},{"t":3092.2768,"f":0.99955,"s":"c"},{"t":3092.2501,"f":0.999584,"s":"c"},{"t":3092.1826,"f":0.999527,"s":"c"},{"t":3092.1418,"f":0.999498,"s":"c"},{"t":3092.0951,"f":0.999533,"s":"c"},{"t":3092.0176,"f":0.999515,"s":"c"},{"t":3092.0626,"f":0.999498,"s":"c"},{"t":3092.0426,"f":0.999362,"s":"c"},{"t":3092.0485,"f":0.999259,"s":"c"},{"t":3092.0143,"f":0.999276,"s":"c"},{"t":3092.006,"f":0.999191,"s":"c"},{"t":3092.0101,"f":0.998991,"s":"c"},{"t":3092.0893,"f":0.99943,"s":"c"},{"t":3092.1151,"f":0.999276,"s":"c"},{"t":3092.1393,"f":0.999276,"s":"c"},{"t":3092.1851,"f":0.999327,"s":"c"},{"t":3092.2043,"f":0.999424,"s":"c"},{"t":3092.2651,"f":0.999225,"s":"c"},{"t":3092.2601,"f":0.999481,"s":"c"},
{"t":3092.2976,"f":1.00126,"s":"c"},{"t":3092.4351,"f":1.001294,"s":"c"},{"t":3092.2876,"f":1.000918,"s":"c"},{"t":3092.2835,"f":1.000866,"s":"c"},{"t":3092.3426,"f":1.000884,"s":"c"},{"t":3092.3726,"f":1.001003,"s":"c"},{"t":3092.3826,"f":1.000969,"s":"c"},{"t":3092.3976,"f":1.001003,"s":"c"},{"t":3092.5076,"f":1.000969,"s":"c"},{"t":3092.4651,"f":1.000866,"s":"c"},{"t":3092.4751,"f":1.000798,"s":"c"},{"t":3092.3701,"f":1.00073,"s":"c"},{"t":3092.4151,"f":1.000695,"s":"c"},{"t":3092.4376,"f":1.000661,"s":"c"},{"t":3092.4751,"f":1.000695,"s":"c"},{"t":3092.3826,"f":1.000593,"s":"c"},{"t":3092.3376,"f":1.000644,"s":"c"},{"t":3092.3393,"f":1.000593,"s":"c"},{"t":3092.3526,"f":1.000678,"s":"c"},{"t":3092.3576,"f":1.000507,"s":"c"},{"t":3092.3543,"f":1.000439,"s":"c"},{"t":3092.3626,"f":1.000422,"s":"c"},{"t":3092.3151,"f":1.00049,"s":"c"},{"t":3092.2876,"f":1.000473,"s":"c"},{"t":3092.2818,"f":1.000542,"s":"c"},{"t":3092.3926,"f":1.000388,"s":"c"},{"t":3092.3293,"f":1.000456,"s":"c"},{"t":3092.3476,"f":1.000456,"s":"c"},{"t":3092.4418,"f":1.000627,"s":"c"},{"t":3092.446,"f":1.000559,"s":"c"},{"t":3092.4526,"f":1.000593,"s":"c"},{"t":3092.456,"f":1.00065,"s":"c"},{"t":3092.4676,"f":1.000524,"s":"c"},{"t":3092.4776,"f":1.000507,"s":"c"},{"t":3092.4851,"f":1.000473,"s":"c"},{"t":3092.4926,"f":1.000473,"s":"c"},{"t":3092.5101,"f":1.00061,"s":"c"},{"t":3092.521,"f":1.000678,"s":"c"},{"t":3092.5301,"f":1.000644,"s":"c"},{"t":3092.5276,"f":1.000473,"s":"c"},{"t":3092.5401,"f":1.000388,"s":"c"},{"t":3092.5445,"f":1.000319,"s":"c"},{"t":3092.5335,"f":1.000336,"s":"c"},{"t":3092.3001,"f":1.000371,"s":"c"},{"t":3092.3101,"f":1.000353,"s":"c"},{"t":3092.3235,"f":1.000274,"s":"c"},{"t":3092.3351,"f":1.000217,"s":"c"},{"t":3092.3435,"f":1.000285,"s":"c"},{"t":3092.3476,"f":1.000165,"s":"c"},{"t":3092.3626,"f":1.000217,"s":"c"},{"t":3092.3785,"f":1.000302,"s":"c"},{"t":3092.386,"f":1.000285,"s":"c"},{"t":3092.401,"f":1.000302,"s":"c"},{"t":3092.4151,"f":1.000336,"s":"c"},{"t":3092.426,"f":1.000353,"s":"c"},{"t":3092.4018,"f":1.000131,"s":"c"},{"t":3092.4101,"f":1.000182,"s":"c"},{"t":3092.4251,"f":1.000137,"s":"c"},{"t":3092.4635,"f":1.000217,"s":"c"},{"t":3092.4776,"f":1.000319,"s":"c"},{"t":3092.4818,"f":1.000285,"s":"c"},{"t":3092.5026,"f":1.0002,"s":"c"},{"t":3092.5093,"f":1.0002,"s":"c"},{"t":3092.5185,"f":1.000182,"s":"c"},{"t":3092.5285,"f":1.000103,"s":"c"},{"t":3092.5393,"f":1.000114,"s":"c"},{"t":3092.2876,"f":1.000268,"s":"c"},{"t":3092.2993,"f":1.000148,"s":"c"},{"t":3092.3085,"f":1.00008,"s":"c"},{"t":3092.3193,"f":1.000103,"s":"c"},{"t":3092.3226,"f":1.000046,"s":"c"},{"t":3092.3351,"f":1.00004,"s":"c"},{"t":3092.3151,"f":0.999977,"s":"c"},{"t":3092.2926,"f":0.999989,"s":"c"},{"t":3092.3018,"f":0.999943,"s":"c"},{"t":3092.2943,"f":0.999852,"s":"c"},{"t":3092.2843,"f":0.999926,"s":"c"},{"t":3092.3101,"f":0.999835,"s":"c"},{"t":3092.3251,"f":0.999835,"s":"c"},{"t":3092.3351,"f":0.999869,"s":"c"},{"t":3092.3401,"f":0.999704,"s":"c"},{"t":3092.3451,"f":0.999675,"s":"c"},{"t":3092.3693,"f":0.999932,"s":"c"},{"t":3092.3751,"f":0.999795,"s":"c"},{"t":3092.3843,"f":0.999772,"s":"c"},{"t":3092.3901,"f":0.999812,"s":"c"},{"t":3092.3951,"f":0.999869,"s":"c"},{"t":3092.406,"f":0.999926,"s":"c"},{"t":3092.4168,"f":0.999943,"s":"c"},{"t":3092.421,"f":1.000068,"s":"c"},{"t":3092.4376,"f":1.000068,"s":"c"},{"t":3092.4418,"f":0.999846,"s":"c"},{"t":3092.4493,"f":0.999954,"s":"c"},{"t":3092.4543,"f":0.99992,"s":"c"},{"t":3092.4568,"f":0.999863,"s":"c"},{"t":3092.4668,"f":0.999846,"s":"c"},{"t":3092.4726,"f":0.999966,"s":"c"},{"t":3092.4835,"f":1.000011,"s":"c"},{"t":3092.496,"f":0.999971,"s":"c"},{"t":3092.4993,"f":1.000023,"s":"c"},{"t":3092.5085,"f":1.0,"s":"c"},{"t":3092.5168,"f":1.000034,"s":"c"},{"t":3092.526,"f":1.0,"s":"c"},{"t":3092.5435,"f":0.999983,"s":"c"},{"t":3092.5368,"f":0.999869,"s":"c"},{"t":3092.5018,"f":0.99984,"s":"c"},{"t":3092.5101,"f":0.99984,"s":"c"},{"t":3092.4918,"f":0.999778,"s":"c"},{"t":3092.4785,"f":0.999829,"s":"c"},{"t":3092.4493,"f":0.999783,"s":"c"},{"t":3092.4593,"f":0.999692,"s":"c"},{"t":3092.4168,"f":0.999647,"s":"c"},{"t":3092.4043,"f":0.999675,"s":"c"},{"t":3092.3868,"f":0.999721,"s":"c"},{"t":3092.3718,"f":0.999675,"s":"c"},{"t":3092.3293,"f":0.999578,"s":"c"},{"t":3092.3101,"f":0.999584,"s":"c"},{"t":3092.2935,"f":0.999624,"s":"c"},{"t":3092.2976,"f":0.999567,"s":"c"},{"t":3092.3043,"f":0.999521,"s":"c"},{"t":3092.3401,"f":0.999487,"s":"c"},{"t":3092.3526,"f":0.999453,"s":"c"},{"t":3092.3751,"f":0.999436,"s":"c"},{"t":3092.3601,"f":0.999367,"s":"c"},{"t":3092.4226,"f":0.999481,"s":"c"},{"t":3092.4135,"f":0.999453,"s":"c"},{"t":3092.4526,"f":0.99955,"s":"c"},{"t":3092.4835,"f":0.999595,"s":"c"},{"t":3092.4943,"f":0.999624,"s":"c"},{"t":3092.5426,"f":0.999669,"s":"c"},{"t":3092.5176,"f":0.999487,"s":"c"},{"t":3092.5351,"f":0.999362,"s":"c"},{"t":3092.5445,"f":0.999413,"s":"c"},{"t":3092.4626,"f":0.999413,"s":"c"},{"t":3092.4451,"f":0.99931,"s":"c"},{"t":3092.4451,"f":0.999054,"s":"c"},{"t":3092.4068,"f":0.999071,"s":"c"},{"t":3092.3801,"f":0.999105,"s":"c"},{"t":3092.321,"f":0.999196,"s":"c"},{"t":3092.3226,"f":0.99902,"s":"c"},{"t":3092.3126,"f":0.999333,"s":"c"},
{"t":3091.9376,"f":1.00155,"s":"r"}
]},
"mark":{"type":"point","filled":true,"size":400,"opacity":1,"clip":true},
"encoding":{
"x":{"field":"t","type":"quantitative","scale":{"domain":[3090.9045,3092.5465],"nice":false,"zero":false},"axis":{"orient":"bottom","title":"Time - 2457000 [BTJD days]","values":[3091,3091.2,3091.4,3091.6,3091.8,3092,3092.2,3092.4],"format":".1f","tickSize":-10,"labelPadding":14,"titlePadding":3}},
"y":{"field":"f","type":"quantitative","scale":{"domain":[0.99773,1.003],"nice":false,"zero":false},"axis":{"orient":"left","title":"Flux [e⁻s⁻¹]","titleFontSize":22,"values":[0.998,0.999,1,1.001,1.002],"format":".3f","tickSize":-10,"labelPadding":17,"labelFontSize":15.5,"titlePadding":9}},
"shape":{"field":"s","type":"nominal","scale":{"domain":["T","r","c","n","a","b"],"range":["M-1.5,0H1.5M-0.4,-0.4H0.4V0.4H-0.4Z","M-0.16,0A0.16,0.16,0,1,0,0.16,0A0.16,0.16,0,1,0,-0.16,0Z","M-0.14,-0.14H0.14V0.14H-0.14Z","M-0.55,0A0.55,0.55,0,1,0,0.55,0A0.55,0.55,0,1,0,-0.55,0Z","M-1.5,0H1.5","M-1.5,0H-0.2M0.2,0H1.5"]},"legend":{"title":"TOI 4555","labelExpr":"datum.label=='T'?'T[0] : 522.63 days':datum.label=='r'?'Raw Data (507,845 pts)':datum.label=='c'?'Cleaned Data (3,539 pts)':datum.label=='n'?'N[0] transits: 4 (single? N)':datum.label=='a'?'t₀[0] − t₁[0] : 1523.84 − 2046.47':'tₘᵢₙ[0] − tₘₐₓ[0] : 1523.84 − 3091.73'"}},
"fill":{"field":"s","type":"nominal","scale":{"domain":["T","r","c","n","a","b"],"range":["#93b3d1","#000000","#787878","#1f77b4","#8db9df","#8db9df"]},"legend":{"title":"TOI 4555","labelExpr":"datum.label=='T'?'T[0] : 522.63 days':datum.label=='r'?'Raw Data (507,845 pts)':datum.label=='c'?'Cleaned Data (3,539 pts)':datum.label=='n'?'N[0] transits: 4 (single? N)':datum.label=='a'?'t₀[0] − t₁[0] : 1523.84 − 2046.47':'tₘᵢₙ[0] − tₘₐₓ[0] : 1523.84 − 3091.73'"}},
"stroke":{"field":"s","type":"nominal","scale":{"domain":["T","r","c","n","a","b"],"range":["#5f93c0","#000000","#787878","#1f77b4","#8db9df","#8db9df"]},"legend":{"title":"TOI 4555","labelExpr":"datum.label=='T'?'T[0] : 522.63 days':datum.label=='r'?'Raw Data (507,845 pts)':datum.label=='c'?'Cleaned Data (3,539 pts)':datum.label=='n'?'N[0] transits: 4 (single? N)':datum.label=='a'?'t₀[0] − t₁[0] : 1523.84 − 2046.47':'tₘᵢₙ[0] − tₘₐₓ[0] : 1523.84 − 3091.73'"}},
"strokeWidth":{"field":"s","type":"nominal","scale":{"type":"ordinal","domain":["T","r","c","n","a","b"],"range":[1.5,0,0,0,1.5,3]},"legend":{"title":"TOI 4555","labelExpr":"datum.label=='T'?'T[0] : 522.63 days':datum.label=='r'?'Raw Data (507,845 pts)':datum.label=='c'?'Cleaned Data (3,539 pts)':datum.label=='n'?'N[0] transits: 4 (single? N)':datum.label=='a'?'t₀[0] − t₁[0] : 1523.84 − 2046.47':'tₘᵢₙ[0] − tₘₐₓ[0] : 1523.84 − 3091.73'"}}
}
},
{
"data":{"values":[{"t":3091.7268,"lo":0.99974,"hi":1.0}]},
"mark":{"type":"rule","color":"#8dbde3","strokeWidth":5,"opacity":0.85},
"encoding":{
"x":{"field":"t","type":"quantitative","scale":{"domain":[3090.9045,3092.5465],"nice":false,"zero":false},"axis":null},
"y":{"field":"lo","type":"quantitative","scale":{"domain":[0.99773,1.003],"nice":false,"zero":false},"axis":null},
"y2":{"field":"hi"}
}
},
{
"data":{"values":[{"t":3091.7268,"f":1.0,"s":"n"}]},
"mark":{"type":"point","filled":true,"size":400,"opacity":1,"clip":true},
"encoding":{
"x":{"field":"t","type":"quantitative","scale":{"domain":[3090.9045,3092.5465],"nice":false,"zero":false},"axis":null},
"y":{"field":"f","type":"quantitative","scale":{"domain":[0.99773,1.003],"nice":false,"zero":false},"axis":null},
"shape":{"field":"s","type":"nominal","scale":{"domain":["T","r","c","n","a","b"]},"legend":{"title":"TOI 4555"}},
"fill":{"field":"s","type":"nominal","scale":{"domain":["T","r","c","n","a","b"]},"legend":{"title":"TOI 4555"}},
"stroke":{"field":"s","type":"nominal","scale":{"domain":["T","r","c","n","a","b"]},"legend":{"title":"TOI 4555"}},
"strokeWidth":{"field":"s","type":"nominal","scale":{"type":"ordinal","domain":["T","r","c","n","a","b"]},"legend":{"title":"TOI 4555"}}
}
},
{
"data":{"values":[{"t":3091.7268,"f":1.0}]},
"mark":{"type":"point","opacity":0},
"encoding":{
"x":{"field":"t","type":"quantitative","scale":{"domain":[3090.9045,3092.5465],"nice":false,"zero":false},"axis":{"orient":"bottom","title":null,"labels":false,"values":[3090.95,3091.05,3091.1,3091.15,3091.25,3091.3,3091.35,3091.45,3091.5,3091.55,3091.65,3091.7,3091.75,3091.85,3091.9,3091.95,3092.05,3092.1,3092.15,3092.25,3092.3,3092.35,3092.45,3092.5],"tickSize":-5.5}},
"y":{"field":"f","type":"quantitative","scale":{"domain":[0.99773,1.003],"nice":false,"zero":false},"axis":{"orient":"left","title":null,"labels":false,"values":[0.9978,0.9982,0.9984,0.9986,0.9988,0.9992,0.9994,0.9996,0.9998,1.0002,1.0004,1.0006,1.0008,1.0012,1.0014,1.0016,1.0018,1.0022,1.0024,1.0026,1.0028],"tickSize":-5.5}}
}
}
]
}
